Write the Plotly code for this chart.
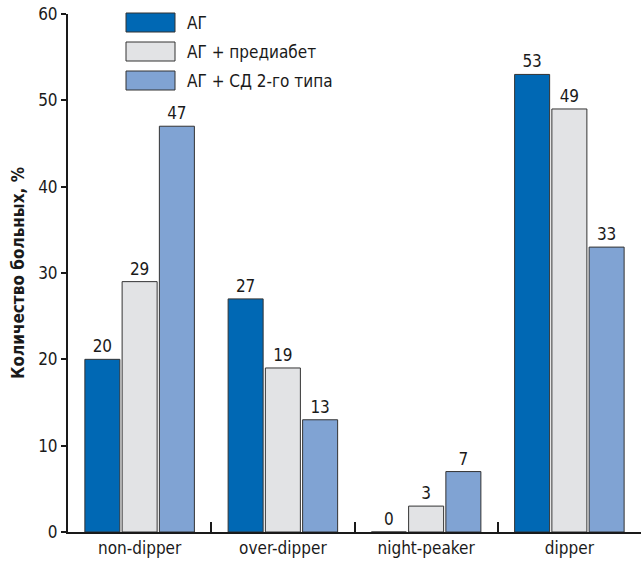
import plotly.graph_objects as go

categories = ["non-dipper", "over-dipper", "night-peaker", "dipper"]
series_names = ["АГ", "АГ + предиабет", "АГ + СД 2-го типа"]
values_ag = [20, 27, 0, 53]
values_pre = [29, 19, 3, 49]
values_sd = [47, 13, 7, 33]
colors = ["#0068b4", "#e2e3e5", "#80a3d3"]
y_ticks = [0, 10, 20, 30, 40, 50, 60]

FONT = "Liberation Sans Narrow, DejaVu Sans Condensed, sans-serif"

fig = go.Figure()
for name, vals, col in zip(series_names, [values_ag, values_pre, values_sd], colors):
    fig.add_trace(go.Bar(
        x=categories, y=vals, name=name,
        marker=dict(color=col, line=dict(color="#333333", width=1)),
        text=vals, textposition="outside", cliponaxis=False,
        textfont=dict(family=FONT, size=17, color="#1a1a1a"),
        showlegend=False,
    ))

W, H = 644, 563
L, R, T, B = 68, 3, 14, 31
pw, ph = W - L - R, H - T - B

def px(x):
    return (x - L) / pw

def py(y):
    return (H - B - y) / ph

shapes = []
annotations = []
for i, (name, col) in enumerate(zip(series_names, colors)):
    y0 = 13 + i * 29
    shapes.append(dict(type="rect", xref="paper", yref="paper",
                       x0=px(126), x1=px(175), y0=py(y0 + 19), y1=py(y0),
                       fillcolor=col, line=dict(color="#333333", width=1)))
    annotations.append(dict(xref="paper", yref="paper", x=px(185), y=py(y0 + 9.5),
                            text=name, showarrow=False, xanchor="left", yanchor="middle",
                            font=dict(family=FONT, size=17, color="#1a1a1a")))

fig.update_layout(
    width=W, height=H,
    margin=dict(l=L, r=R, t=T, b=B),
    paper_bgcolor="white", plot_bgcolor="white",
    barmode="group", bargap=0.22, bargroupgap=0.06,
    font=dict(family=FONT, size=17, color="#1a1a1a"),
    shapes=shapes, annotations=annotations,
    xaxis=dict(
        showline=True, linecolor="#1a1a1a", linewidth=2,
        ticks="inside", tickson="boundaries", ticklen=10, tickwidth=2, tickcolor="#1a1a1a",
        tickfont=dict(family=FONT, size=17), showgrid=False,
    ),
    yaxis=dict(
        range=[0, 60], tickvals=y_ticks,
        showline=True, linecolor="#1a1a1a", linewidth=2,
        ticks="outside", ticklen=5, tickwidth=2, tickcolor="#1a1a1a",
        tickfont=dict(family=FONT, size=17), showgrid=False, zeroline=False,
        title=dict(text="<b>Количество больных, %</b>", font=dict(family=FONT, size=17), standoff=9),
    ),
)

fig.write_html("out.html", config={"displayModeBar": False},
               post_script="document.body.style.margin='0';document.body.style.overflow='hidden';")
